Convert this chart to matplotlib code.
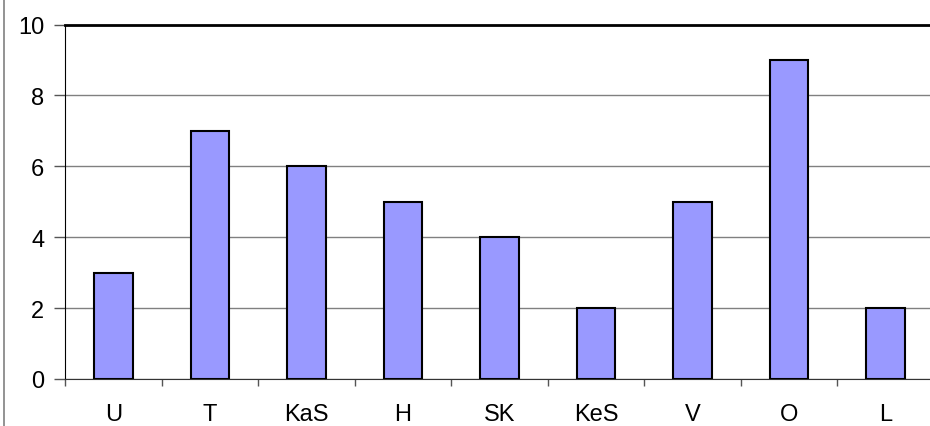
import matplotlib.pyplot as plt
import numpy as np
from matplotlib.lines import Line2D

categorias = ["U", "T", "KaS", "H", "SK", "KeS", "V", "O", "L"]
valores = [3, 7, 6, 5, 4, 2, 5, 9, 2]
marcas_y = [0, 2, 4, 6, 8, 10]

plt.rcParams["font.family"] = ["Liberation Sans", "DejaVu Sans"]

fig = plt.figure(figsize=(9.3, 4.27), dpi=100)
ax = fig.add_axes([65 / 930, 47 / 427, 869 / 930, 354.5 / 427])

x = np.arange(len(categorias))
ax.bar(x, valores, width=0.4, color="#9999FF", edgecolor="black", linewidth=1.5, zorder=3)

ax.set_xlim(-0.5, len(categorias) - 0.5)
ax.set_ylim(0, 10)
ax.set_yticks(marcas_y)
ax.set_yticklabels([str(v) for v in marcas_y], fontsize=17)
ax.set_xticks(x)
ax.set_xticklabels(categorias, fontsize=17)
ax.set_xticks(np.arange(len(categorias) + 1) - 0.5, minor=True)

ax.tick_params(axis="x", which="major", length=0, pad=17)
ax.tick_params(axis="x", which="minor", length=5, width=1, color="#555555")
ax.tick_params(axis="y", length=8, width=1, color="#555555", pad=7)

ax.yaxis.grid(True, color="#808080", linewidth=1, zorder=0)
ax.spines["right"].set_visible(False)
ax.spines["top"].set_linewidth(2)
ax.spines["left"].set_color("black")
ax.spines["bottom"].set_color("#333333")

# borde exterior del gráfico
fig.add_artist(Line2D([3.5 / 930, 3.5 / 930], [0, 1], color="#808080", linewidth=1.2))

fig.savefig("out.png", dpi=100)
